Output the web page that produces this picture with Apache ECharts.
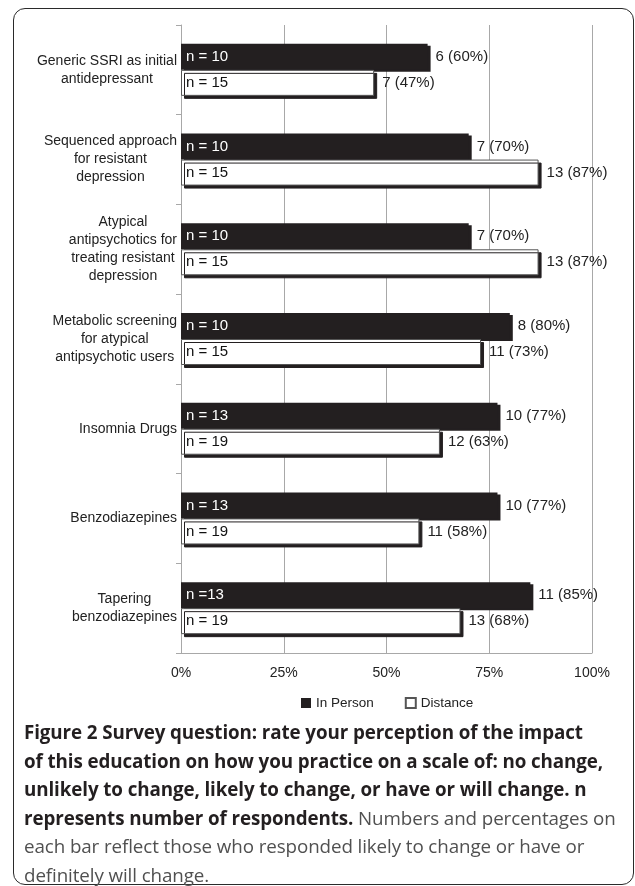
<!DOCTYPE html>
<html>
<head>
<meta charset="utf-8">
<script src="https://cdn.jsdelivr.net/npm/echarts@6/dist/echarts.min.js"></script>
<style>
  html, body { margin: 0; padding: 0; background: #fff; }
  body { width: 635px; height: 886px; position: relative; overflow: hidden; }
  #frame {
    position: absolute; left: 13px; top: 8px; width: 621px; height: 877px;
    border: 1.5px solid #2a2a2a; border-radius: 12px; box-sizing: border-box;
  }
  #chart { position: absolute; left: 0; top: 0; width: 635px; height: 720px; }
  #caption {
    position: absolute; left: 24px; top: 718px; white-space: nowrap;
    font-family: "Open Sans", "Noto Sans", sans-serif; font-size: 18.8px;
    line-height: 28.5px; color: #505050; letter-spacing: -0.1px;
  }
  #caption b { color: #231f20; font-weight: 700; }
</style>
</head>
<body>
<div id="frame"></div>
<div id="chart"></div>
<div id="caption"><b>Figure 2 Survey question: rate your perception of the impact<br>of this education on how you practice on a scale of: no change,<br>unlikely to change, likely to change, or have or will change. n<br>represents number of respondents.</b> Numbers and percentages on<br>each bar reflect those who responded likely to change or have or<br>definitely will change.</div>
<script>
// categories, top to bottom
var categories = [
    'Generic SSRI as initial\nantidepressant',
    'Sequenced approach\nfor resistant\ndepression',
    'Atypical\nantipsychotics for\ntreating resistant\ndepression',
    'Metabolic screening\nfor atypical\nantipsychotic users',
    'Insomnia Drugs',
    'Benzodiazepines',
    'Tapering\nbenzodiazepines'
];
var xTicks = ['0%', '25%', '50%', '75%', '100%'];

// In Person
var inPersonN = ['n = 10', 'n = 10', 'n = 10', 'n = 10', 'n = 13', 'n = 13', 'n =13'];
var inPersonCount = [6, 7, 7, 8, 10, 10, 11];
var inPersonPct = [60, 70, 70, 80, 77, 77, 85];

// Distance
var distanceN = ['n = 15', 'n = 15', 'n = 15', 'n = 15', 'n = 19', 'n = 19', 'n = 19'];
var distanceCount = [7, 13, 13, 11, 12, 11, 13];
var distancePct = [47, 87, 87, 73, 63, 58, 68];

var zeros = categories.map(function () { return 0; });
var font = '"Liberation Sans", Arial, sans-serif';

var myChart = echarts.init(document.getElementById('chart'));
var option = {
    animation: false,
    textStyle: { fontFamily: font },
    legend: {
        left: 296,
        top: 691,
        itemWidth: 10,
        itemHeight: 10,
        itemGap: 31,
        icon: 'rect',
        data: ['In Person', 'Distance'],
        itemStyle: { shadowBlur: 0, shadowOffsetX: 0, shadowOffsetY: 0, shadowColor: 'transparent' },
        textStyle: { fontSize: 13.5, color: '#222', fontFamily: font }
    },
    grid: { left: 181, right: 43, top: 25, bottom: 67 },
    xAxis: {
        type: 'value',
        min: 0,
        max: 100,
        interval: 25,
        axisLine: { show: true, lineStyle: { color: '#a8a8a8', width: 1 } },
        axisTick: { show: false },
        splitLine: { show: true, lineStyle: { color: '#a8a8a8', width: 1 } },
        axisLabel: {
            margin: 13,
            fontSize: 14,
            color: '#222',
            formatter: function (v) { return xTicks[v / 25]; }
        }
    },
    yAxis: {
        type: 'category',
        inverse: true,
        data: categories,
        axisLine: { show: true, lineStyle: { color: '#a8a8a8', width: 1 } },
        axisTick: { show: true, length: 5, lineStyle: { color: '#a8a8a8' } },
        axisLabel: {
            margin: 4,
            align: 'right',
            formatter: function (v) {
                return v.split('\n').map(function (s) { return '{c|' + s + '}'; }).join('\n');
            },
            rich: {
                c: { align: 'center', fontSize: 14, lineHeight: 18, color: '#222', fontFamily: font }
            }
        }
    },
    series: [
        {
            name: 'In Person',
            type: 'bar',
            stack: 'p',
            barWidth: 26,
            barGap: '0%',
            itemStyle: {
                color: '#231f20',
                shadowColor: '#231f20', shadowOffsetX: 3, shadowOffsetY: 2, shadowBlur: 0
            },
            label: {
                show: true, position: 'insideLeft', distance: 5,
                fontSize: 15, color: '#fff', fontFamily: font,
                formatter: function (p) { return inPersonN[p.dataIndex]; }
            },
            data: inPersonPct
        },
        {
            name: 'Distance',
            type: 'bar',
            stack: 'd',
            barWidth: 26,
            itemStyle: {
                color: '#fff', borderColor: '#555', borderWidth: 1,
                shadowColor: '#231f20', shadowOffsetX: 3, shadowOffsetY: 3, shadowBlur: 0
            },
            label: {
                show: true, position: 'insideLeft', distance: 5,
                fontSize: 15, color: '#111', fontFamily: font,
                formatter: function (p) { return distanceN[p.dataIndex]; }
            },
            data: distancePct
        },
        {
            name: 'In Person count',
            type: 'bar',
            stack: 'p',
            barWidth: 26,
            itemStyle: { color: 'transparent' },
            label: {
                show: true, position: 'right', distance: 8,
                fontSize: 15, color: '#222', fontFamily: font,
                formatter: function (p) {
                    return inPersonCount[p.dataIndex] + ' (' + inPersonPct[p.dataIndex] + '%)';
                }
            },
            data: zeros
        },
        {
            name: 'Distance count',
            type: 'bar',
            stack: 'd',
            barWidth: 26,
            itemStyle: { color: 'transparent' },
            label: {
                show: true, position: 'right', distance: 8,
                fontSize: 15, color: '#222', fontFamily: font,
                formatter: function (p) {
                    return distanceCount[p.dataIndex] + ' (' + distancePct[p.dataIndex] + '%)';
                }
            },
            data: zeros
        }
    ]
};

myChart.setOption(option);
</script>
</body>
</html>
